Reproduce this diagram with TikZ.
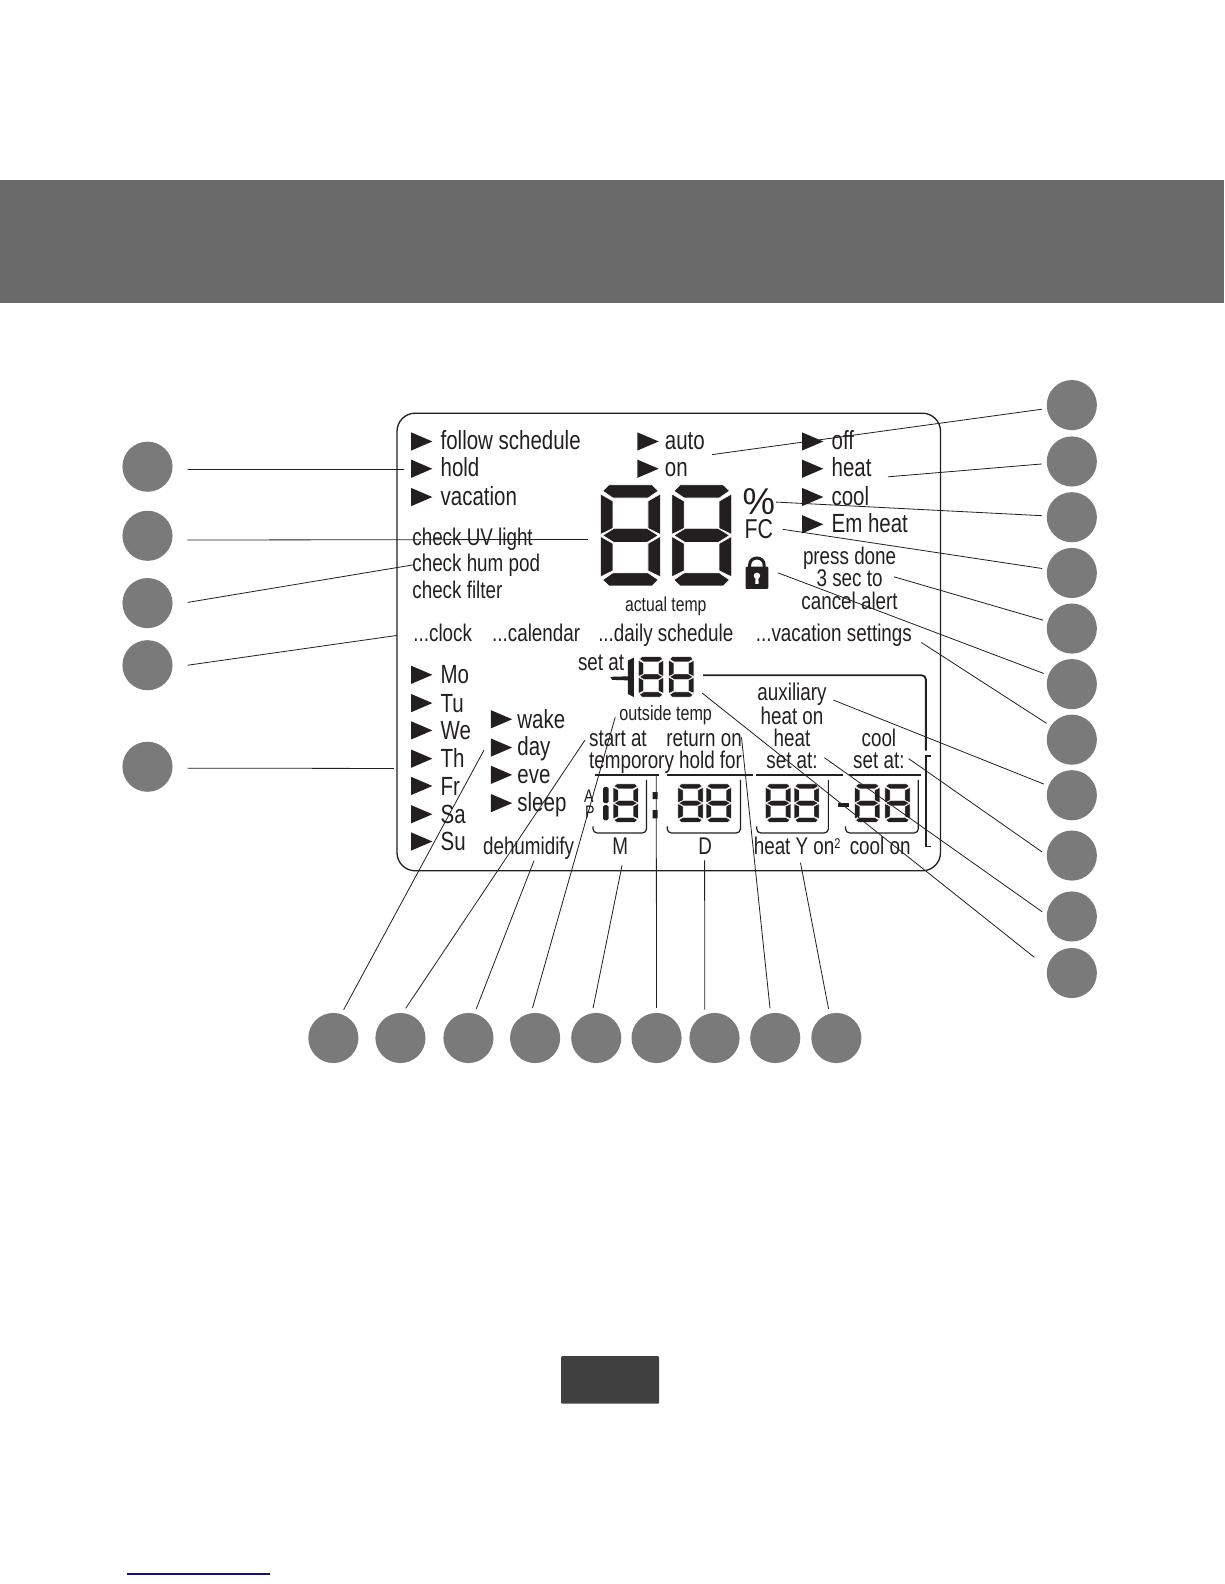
\documentclass[tikz,border=0pt]{standalone}
\usepackage{fontspec}
\usepackage{xcolor}
\usetikzlibrary{positioning}
\setmainfont[FakeStretch=0.78]{Liberation Sans}
\definecolor{ink}{HTML}{231F20}
\definecolor{dotgray}{HTML}{7A7A7A}
\definecolor{bandgray}{HTML}{6A6A6A}
\definecolor{tabgray}{HTML}{404040}
\definecolor{rulenavy}{HTML}{12127A}

\tikzset{
  digit/.pic={
    \filldraw[seg] (8,0) -- (50,0) -- (56,6) -- (46,13) -- (12,13) -- (2,6) -- cycle;
    \filldraw[seg] (0,9) -- (12,16) -- (12,43) -- (0,49) -- cycle;
    \filldraw[seg] (58,9) -- (46,16) -- (46,43) -- (58,49) -- cycle;
    \filldraw[seg] (2,50) -- (13,43) -- (45,43) -- (56,50) -- (45,57) -- (13,57) -- cycle;
    \filldraw[seg] (0,51) -- (12,58) -- (12,85) -- (0,91) -- cycle;
    \filldraw[seg] (58,51) -- (46,58) -- (46,85) -- (58,91) -- cycle;
    \filldraw[seg] (2,94) -- (12,87) -- (46,87) -- (56,94) -- (50,100) -- (8,100) -- cycle;
  },
  flag/.pic={\fill[ink] (0,-9) -- (21,0) -- (0,9) -- cycle;}
}

\begin{document}
\begin{tikzpicture}[
  x=1pt,y=-1pt,
  dot/.style={circle,fill=dotgray,minimum size=49.6pt,inner sep=0pt,outer sep=5pt,on grid},
  sidedot/.style={dot,outer sep=15pt},
  leader/.style={draw=ink,line width=.8pt},
  frame/.style={draw=ink,line width=1.3pt},
  seg/.style={fill=ink,draw=white},
  lbl/.style={anchor=base west,inner sep=0pt,text=ink},
  biglbl/.style={lbl,font=\fontsize{26}{26}\selectfont},
  midlbl/.style={lbl,font=\fontsize{23.9}{22}\selectfont},
  midctr/.style={midlbl,anchor=base,align=center},
  smallctr/.style={lbl,anchor=base,font=\fontsize{20}{20}\selectfont}
]
  \useasboundingbox (0,0) rectangle (1212,1568);
  \node[fill=bandgray,minimum width=1212pt,minimum height=122pt,inner sep=0pt] (banner) at (606,239) {};
  \node[fill=tabgray,rounded corners=1pt,minimum width=97pt,minimum height=47pt,inner sep=0pt] (tab) at (604,1366) {};
  \node[fill=rulenavy,minimum width=141pt,minimum height=1.5pt,inner sep=0pt] (footrule) at (196.5,1558) {};
  \node[frame,rounded corners=18pt,minimum width=538pt,minimum height=453pt] (lcd) at (662,635.5) {};

  % top rows
  \pic at (407,437) {flag}; \node[biglbl] (follow) at (436,445) {follow schedule};
  \pic at (407,464) {flag}; \node[biglbl] (hold) at (436,472) {hold};
  \pic at (407,492) {flag}; \node[biglbl] (vacation) at (436,500) {vacation};
  \pic at (631,437) {flag}; \node[biglbl] (auto) at (658,445) {auto};
  \pic at (631,464) {flag}; \node[biglbl] (on) at (658,472) {on};
  \pic at (794,437) {flag}; \node[biglbl] (off) at (823,445) {off};
  \pic at (794,464) {flag}; \node[biglbl] (heat) at (823,472) {heat};
  \pic at (794,492) {flag}; \node[biglbl] (cool) at (823,500) {cool};
  \pic at (794,519) {flag}; \node[biglbl] (emheat) at (823,527) {Em heat};
  \node[midlbl] (uvlight) at (408,540) {check UV light};
  \node[midlbl] (humpod) at (408,566) {check hum pod};
  \node[midlbl] (filter) at (408,592) {check filter};

  % main temperature
  \pic[xscale=1.02,line width=.6pt] at (594.5,480) {digit};
  \pic[xscale=1.02,line width=.6pt] at (665,480) {digit};
  \node[smallctr] (actual) at (659,605) {actual temp};
  \node[lbl,font=\fontsize{37}{37}\selectfont] (percent) at (735,509) {\scalebox{1.25}[1]{\%}};
  \node[lbl,font=\fontsize{27}{27}\selectfont] (fc) at (737,533.5) {FC};
  \node[midctr] (alert) at (841,603) {press done\\3 sec to\\cancel alert};
  \fill[ink,rounded corners=1pt] (738,561) rectangle (760.5,583);
  \draw[ink,line width=3pt] (742,562) -- (742,559.5) .. controls (742,550) and (756.5,550) .. (756.5,559.5) -- (756.5,562);
  \fill[white] (749.3,570) circle (3.2pt);
  \fill[white] (748,571) -- (750.6,571) -- (751,578) -- (747.6,578) -- cycle;

  \node[midlbl] (clock) at (409,635) {...clock};
  \node[midlbl] (calendar) at (487,635) {...calendar};
  \node[midlbl] (daily) at (592,635) {...daily schedule};
  \node[midlbl] (vacset) at (748,635) {...vacation settings};

  % days and periods
  \pic at (407,668) {flag}; \node[biglbl] (mo) at (436,677) {Mo};
  \pic at (407,696) {flag}; \node[biglbl] (tu) at (436,705) {Tu};
  \pic at (407,723) {flag}; \node[biglbl] (we) at (436,732) {We};
  \pic at (407,751) {flag}; \node[biglbl] (th) at (436,760) {Th};
  \pic at (407,778) {flag}; \node[biglbl] (fr) at (436,787) {Fr};
  \pic at (407,806) {flag}; \node[biglbl] (sa) at (436,815) {Sa};
  \pic at (407,833) {flag}; \node[biglbl] (su) at (436,842) {Su};
  \pic at (486,712) {flag}; \node[biglbl] (wake) at (512,721) {wake};
  \pic at (486,740) {flag}; \node[biglbl] (day) at (512,748) {day};
  \pic at (486,767) {flag}; \node[biglbl] (eve) at (512,776) {eve};
  \pic at (486,795) {flag}; \node[biglbl] (sleep) at (512,803) {sleep};

  % set at readout
  \node[midlbl] (setat) at (572,664) {set at};
  \fill[ink] (604,670) -- (621.5,669.5) -- (621.5,654) -- (627.5,651) -- (627.5,690) -- (621.5,687) -- (621.5,673.5) -- (606,673) -- cycle;
  \pic[xscale=.43,yscale=.40,line width=.45pt] at (632,650) {digit};
  \pic[xscale=.43,yscale=.40,line width=.45pt] at (662,650) {digit};
  \node[smallctr,font=\fontsize{20.5}{20.5}\selectfont] (outside) at (659,713) {outside temp};
  \draw[ink,line width=1.8pt,rounded corners=4pt] (696,668.5) -- (916.5,668.5) -- (916.5,743);
  \draw[ink,line width=1.8pt] (922,748) -- (916.5,748) -- (916.5,838) -- (922,838);

  \node[midlbl] (startat) at (583,739) {start at};
  \node[midlbl] (temporory) at (583,761) {temporory hold for};
  \node[midctr] (returnon) at (697,739) {return on};
  \node[midctr] (auxiliary) at (784,761) {auxiliary\\heat on\\heat\\set at:};
  \node[midctr] (coolset) at (870,761) {cool\\set at:};
  \draw[ink,line width=1.7pt] (589,767) -- (652,767) (660,767) -- (745,767) (748,767) -- (834,767) (840,767) -- (912,767);

  % bottom readouts
  \node[lbl,font=\fontsize{18}{18}\selectfont] (am) at (578,794) {A};
  \node[lbl,font=\fontsize{18}{18}\selectfont] (pm) at (579,810) {P};
  \fill[ink,rounded corners=1.5pt] (597,779) rectangle (602.5,795) (597,797) rectangle (602.5,812);
  \pic[xscale=.43,yscale=.38,line width=.45pt] at (607,776) {digit};
  \fill[ink] (646,784) rectangle (651,791) (646,802) rectangle (651,810);
  \pic[xscale=.43,yscale=.38,line width=.45pt] at (671,776) {digit};
  \pic[xscale=.43,yscale=.38,line width=.45pt] at (699,776) {digit};
  \pic[xscale=.43,yscale=.38,line width=.45pt] at (758,776) {digit};
  \pic[xscale=.43,yscale=.38,line width=.45pt] at (786,776) {digit};
  \fill[ink] (830,795) rectangle (840,799);
  \pic[xscale=.43,yscale=.38,line width=.45pt] at (846,776) {digit};
  \pic[xscale=.43,yscale=.38,line width=.45pt] at (876,776) {digit};
  \draw[ink,line width=1.2pt,rounded corners=4pt] (587,818) -- (587,824.5) -- (640,824.5) -- (640,772);
  \draw[ink,line width=1.2pt,rounded corners=4pt] (660.5,818) -- (660.5,824.5) -- (733,824.5) -- (733,772);
  \draw[ink,line width=1.2pt,rounded corners=4pt] (749,818) -- (749,824.5) -- (820,824.5) -- (820,772);
  \draw[ink,line width=1.2pt,rounded corners=4pt] (837,818) -- (837,824.5) -- (909,824.5) -- (909,772);

  \node[midlbl] (dehumidify) at (478,846) {dehumidify};
  \node[midctr] (month) at (614,846) {M};
  \node[midctr] (date) at (698,846) {D};
  \node[midlbl] (heaton) at (746,846) {heat Y on\raisebox{6.5pt}{\fontsize{14}{14}\selectfont 2}};
  \node[midlbl] (coolon) at (841,846) {cool on};

  % callout dots
  \node[sidedot] (holdDot) at (146,462) {};
  \node[sidedot,below=68.4pt of holdDot] (uvDot) {};
  \node[sidedot,below=66.6pt of uvDot] (humDot) {};
  \node[sidedot,below=61.5pt of humDot] (clockDot) {};
  \node[sidedot,below=100.5pt of clockDot] (dayDot) {};

  \node[dot] (fanDot) at (1061,401) {};
  \node[dot,below=55.8pt of fanDot] (heatDot) {};
  \node[dot,below=55.2pt of heatDot] (pctDot) {};
  \node[dot,below=55.2pt of pctDot] (fcDot) {};
  \node[dot,below=55pt of fcDot] (alertDot) {};
  \node[dot,below=55pt of alertDot] (lockDot) {};
  \node[dot,below=55pt of lockDot] (vacDot) {};
  \node[dot,below=55pt of vacDot] (auxDot) {};
  \node[dot,below=59.7pt of auxDot] (coolDot) {};
  \node[dot,below=60.3pt of coolDot] (heatsetDot) {};
  \node[dot,below=56pt of heatsetDot] (readoutDot) {};

  \node[dot] (periodDot) at (330,1027.5) {};
  \node[dot,right=66.4pt of periodDot] (startDot) {};
  \node[dot,right=67.3pt of startDot] (humidDot) {};
  \node[dot,right=66pt of humidDot] (outDot) {};
  \node[dot,right=60.5pt of outDot] (monthDot) {};
  \node[dot,right=59.7pt of monthDot] (colonDot) {};
  \node[dot,right=57.4pt of colonDot] (dateDot) {};
  \node[dot,right=60.1pt of dateDot] (returnDot) {};
  \node[dot,right=60.5pt of returnDot] (stageDot) {};

  % callout targets
  \coordinate (holdEnd) at (400,464.7);
  \coordinate (uvEnd) at (582,534);
  \coordinate (humEnd) at (410,559);
  \coordinate (clockEnd) at (393,629);
  \coordinate (dayEnd) at (390,760.7);
  \coordinate (fanEnd) at (705,450);
  \coordinate (heatEnd) at (879,472);
  \coordinate (pctEnd) at (768,497);
  \coordinate (fcEnd) at (775,524);
  \coordinate (alertEnd) at (885,571);
  \coordinate (lockEnd) at (770,567);
  \coordinate (vacEnd) at (912,636);
  \coordinate (auxEnd) at (825,693);
  \coordinate (coolEnd) at (899.5,751);
  \coordinate (heatsetEnd) at (816,750);
  \coordinate (readoutEnd) at (695,686);
  \coordinate (periodEnd) at (479,742.7);
  \coordinate (startEnd) at (579,732.7);
  \coordinate (humidEnd) at (528.6,852);
  \coordinate (outEnd) at (609,710);
  \coordinate (monthEnd) at (615.8,856.5);
  \coordinate (colonEnd) at (649.6,767.6);
  \coordinate (dateEnd) at (697.5,851.6);
  \coordinate (returnEnd) at (734,730);
  \coordinate (stageEnd) at (792.4,854);

  \draw[leader] (holdDot.-4) -- (holdEnd);
  \draw[leader] (uvDot.-6) -- (uvEnd);
  \draw[leader] (humDot.1.5) -- (humEnd);
  \draw[leader] (clockDot.0) -- (clockEnd);
  \draw[leader] (dayDot.-2) -- (dayEnd);
  \draw[leader] (fanDot) -- (fanEnd);
  \draw[leader] (heatDot) -- (heatEnd);
  \draw[leader] (pctDot) -- (pctEnd);
  \draw[leader] (fcDot) -- (fcEnd);
  \draw[leader] (alertDot) -- (alertEnd);
  \draw[leader] (lockDot) -- (lockEnd);
  \draw[leader] (vacDot) -- (vacEnd);
  \draw[leader] (auxDot) -- (auxEnd);
  \draw[leader] (coolDot.173) -- (coolEnd);
  \draw[leader] (heatsetDot.171) -- (heatsetEnd);
  \draw[leader,shorten <=11pt] (readoutDot.163) -- (readoutEnd);
  \draw[leader] (periodDot.70) -- (periodEnd);
  \draw[leader] (startDot.80) -- (startEnd);
  \draw[leader] (humidDot.75) -- (humidEnd);
  \draw[leader] (outDot.95) -- (outEnd);
  \draw[leader] (monthDot.96) -- (monthEnd);
  \draw[leader] (colonDot.90) -- (colonEnd);
  \draw[leader] (dateDot.109) -- (dateEnd);
  \draw[leader] (returnDot.100) -- (returnEnd);
  \draw[leader] (stageDot.105) -- (stageEnd);
\end{tikzpicture}
\end{document}
